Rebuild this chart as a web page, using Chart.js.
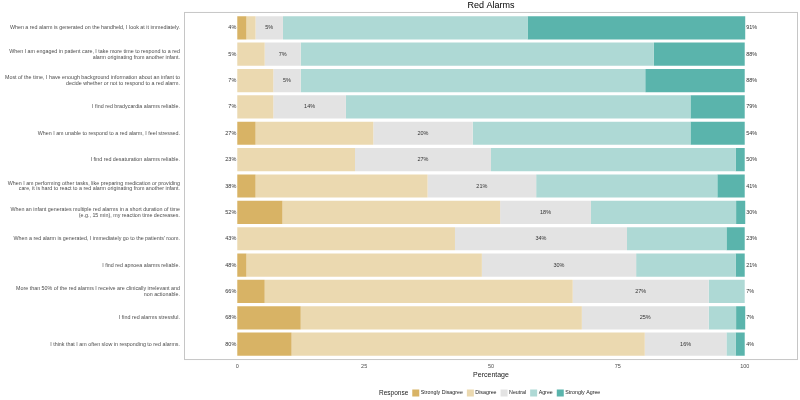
<!DOCTYPE html>
<html>
<head>
<meta charset="utf-8">
<title>Red Alarms</title>
<script src="https://cdn.jsdelivr.net/npm/chart.js@4"></script>
<style>
    html, body { margin: 0; padding: 0; background: #ffffff; }
    #wrap { width: 800px; height: 400px; }
</style>
</head>
<body>
<div id="wrap"><canvas id="likertChart"></canvas></div>
<script>
// Survey statements (top to bottom)
const questions = [
    'When a red alarm is generated on the handheld, I look at it immediately.',
    ['When I am engaged in patient care, I take more time to respond to a red', 'alarm originating from another infant.'],
    ['Most of the time, I have enough background information about an infant to', 'decide whether or not to respond to a red alarm.'],
    'I find red bradycardia alarms reliable.',
    'When I am unable to respond to a red alarm, I feel stressed.',
    'I find red desaturation alarms reliable.',
    ['When I am performing other tasks, like preparing medication or providing', 'care, it is hard to react to a red alarm originating from another infant.'],
    ['When an infant generates multiple red alarms in a short duration of time', '(e.g., 15 min), my reaction time decreases.'],
    'When a red alarm is generated, I immediately go to the patients\' room.',
    'I find red apnoea alarms reliable.',
    ['More than 50% of the red alarms I receive are clinically irrelevant and', 'non actionable.'],
    'I find red alarms stressful.',
    'I think that I am often slow in responding to red alarms.'
];

// Percent of respondents per answer
const stronglyDisagree = [1.8, 0, 0, 0, 3.6, 0, 3.6, 8.9, 0, 1.8, 5.4, 12.5, 10.7];
const disagree         = [1.8, 5.4, 7.1, 7.1, 23.2, 23.2, 33.9, 42.9, 42.9, 46.4, 60.7, 55.4, 69.6];
const neutral          = [5.4, 7.1, 5.4, 14.3, 19.6, 26.8, 21.4, 17.9, 33.9, 30.4, 26.8, 25.0, 16.1];
const agree            = [48.2, 69.6, 67.9, 67.9, 42.9, 48.2, 35.7, 28.6, 19.6, 19.6, 7.1, 5.4, 1.8];
const stronglyAgree    = [42.9, 17.9, 19.6, 10.7, 10.7, 1.8, 5.4, 1.8, 3.6, 1.8, 0, 1.8, 1.8];

const responses = ['Strongly Disagree', 'Disagree', 'Neutral', 'Agree', 'Strongly Agree'];
const xTicks = [0, 25, 50, 75, 100];

const FONT = "'Liberation Sans', Arial, sans-serif";
const pct = v => Math.round(v + 1e-6) + '%';

// Border, title, percentage labels and legend
const likertOverlay = {
    id: 'likertOverlay',
    afterDatasetsDraw(chart) {
        const { ctx, chartArea: a, scales: { x } } = chart;
        const extra = (a.bottom - a.top) / questions.length * 0.1;
        ctx.save();

        // panel border
        ctx.strokeStyle = '#c6c6c6';
        ctx.lineWidth = 1;
        ctx.strokeRect(a.left + 0.5, a.top - extra + 0.5, a.right - a.left - 1, a.bottom - a.top + 2 * extra - 1);

        // title
        ctx.fillStyle = '#000000';
        ctx.font = '9px ' + FONT;
        ctx.textAlign = 'center';
        ctx.textBaseline = 'middle';
        ctx.fillText('Red Alarms', (a.left + a.right) / 2, 5.5);

        // percentage labels
        ctx.font = '5.5px ' + FONT;
        ctx.fillStyle = '#333333';
        const neutralBars = chart.getDatasetMeta(2).data;
        questions.forEach((q, i) => {
            const yPix = neutralBars[i].y;
            ctx.textAlign = 'right';
            ctx.fillText(pct(stronglyDisagree[i] + disagree[i]), x.getPixelForValue(0) - 1, yPix);
            ctx.textAlign = 'left';
            ctx.fillText(pct(agree[i] + stronglyAgree[i]), x.getPixelForValue(100) + 1.5, yPix);
            ctx.textAlign = 'center';
            ctx.fillText(pct(neutral[i]), (neutralBars[i].x + neutralBars[i].base) / 2, yPix);
        });

        // legend
        const ly = 393;
        let lx = 379;
        ctx.textAlign = 'left';
        ctx.fillStyle = '#1a1a1a';
        ctx.font = '6.5px ' + FONT;
        ctx.fillText('Response', lx, ly);
        lx += ctx.measureText('Response').width + 4;
        ctx.font = '5.3px ' + FONT;
        chart.data.datasets.forEach(ds => {
            ctx.fillStyle = ds.backgroundColor;
            ctx.fillRect(lx, ly - 3.5, 7, 7);
            lx += 8.5;
            ctx.fillStyle = '#1a1a1a';
            ctx.fillText(ds.label, lx, ly);
            lx += ctx.measureText(ds.label).width + 4;
        });
        ctx.restore();
    }
};

const colors = ['#d8b365', '#ebd9b0', '#e3e3e3', '#aed9d5', '#5ab4ac'];
const series = [stronglyDisagree, disagree, neutral, agree, stronglyAgree];

new Chart(document.getElementById('likertChart'), {
    type: 'bar',
    data: {
        labels: questions,
        datasets: series.map((vals, k) => ({
            label: responses[k],
            data: vals,
            backgroundColor: colors[k],
            borderWidth: 0,
            barPercentage: 0.88,
            categoryPercentage: 1
        }))
    },
    options: {
        indexAxis: 'y',
        responsive: true,
        maintainAspectRatio: false,
        animation: false,
        layout: { padding: { top: 14.6, right: 2, bottom: 0, left: 0 } },
        plugins: {
            legend: { display: false },
            title: { display: false },
            tooltip: { enabled: false }
        },
        scales: {
            x: {
                stacked: true,
                min: -10.5,
                max: 110.5,
                afterBuildTicks: axis => { axis.ticks = xTicks.map(v => ({ value: v })); },
                afterFit: axis => { axis.height = 42.6; },
                grid: { display: false, drawTicks: false },
                border: { display: false },
                ticks: {
                    padding: 6,
                    color: '#4d4d4d',
                    font: { family: FONT, size: 5.5 }
                },
                title: {
                    display: true,
                    text: 'Percentage',
                    color: '#1a1a1a',
                    font: { family: FONT, size: 7 },
                    padding: { top: 0, bottom: 20.8 }
                }
            },
            y: {
                stacked: true,
                afterFit: axis => { axis.width = 184; },
                grid: { display: false, drawTicks: false },
                border: { display: false },
                ticks: {
                    padding: 4,
                    color: '#4d4d4d',
                    font: { family: FONT, size: 5.35, lineHeight: 1.1 }
                }
            }
        }
    },
    plugins: [likertOverlay]
});
</script>
</body>
</html>
